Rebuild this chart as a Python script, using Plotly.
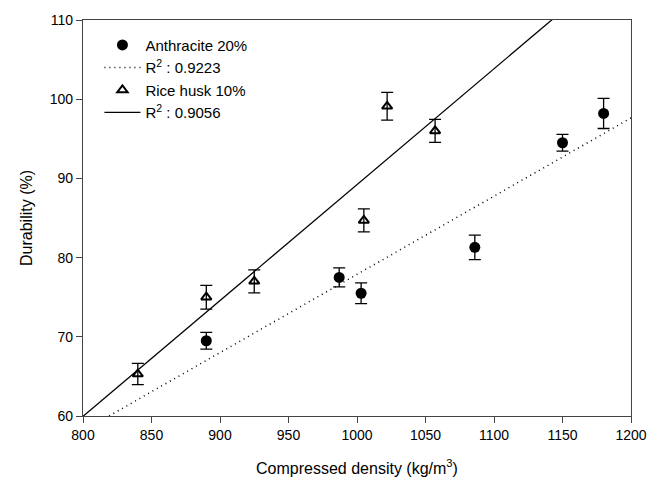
import numpy as np
import plotly.graph_objects as go

# Anthracite 20%
anth_x = [890, 987, 1003, 1086, 1150, 1180]
anth_y = [69.5, 77.5, 75.5, 81.3, 94.5, 98.2]
anth_err = [1.05, 1.2, 1.3, 1.55, 1.05, 1.9]

# Rice husk 10%
rice_x = [840, 890, 925, 1005, 1022, 1057]
rice_y = [65.3, 75.0, 77.0, 84.7, 99.1, 96.0]
rice_err = [1.35, 1.5, 1.45, 1.45, 1.75, 1.45]

anth_r2_label = "R<sup>2</sup> : 0.9223"
rice_r2_label = "R<sup>2</sup> : 0.9056"

x_range = [800, 1200]
y_range = [60, 110]

# linear fits
a_coef = np.polyfit(anth_x, anth_y, 1)
r_coef = np.polyfit(rice_x, rice_y, 1)
fit_x = np.array(x_range, dtype=float)

fig = go.Figure()

fig.add_trace(go.Scatter(
    x=anth_x, y=anth_y, mode="markers", name="Anthracite 20%",
    marker=dict(symbol="circle", size=11, color="black"),
    error_y=dict(type="data", array=anth_err, color="black", thickness=1.3, width=6),
))
fig.add_trace(go.Scatter(
    x=fit_x, y=np.polyval(a_coef, fit_x), mode="lines", name=anth_r2_label,
    line=dict(color="black", width=1.5, dash="1px,4px"),
))
fig.add_trace(go.Scatter(
    x=rice_x, y=rice_y, mode="markers", name="Rice husk 10%",
    marker=dict(symbol="triangle-up-open", size=9, color="black", line=dict(width=2, color="black")),
    error_y=dict(type="data", array=rice_err, color="black", thickness=1.3, width=6),
))
fig.add_trace(go.Scatter(
    x=fit_x, y=np.polyval(r_coef, fit_x), mode="lines", name=rice_r2_label,
    line=dict(color="black", width=1.3),
))

axis_common = dict(
    showline=True, linecolor="#444", linewidth=1.3, mirror=True,
    ticks="outside", ticklen=6, tickcolor="#444", tickwidth=1.3,
    showgrid=False, zeroline=False,
    tickfont=dict(family="Liberation Sans, Arial", size=14, color="black"),
)

fig.update_layout(
    width=661, height=486,
    margin=dict(l=83, r=30, t=15, b=70),
    paper_bgcolor="white", plot_bgcolor="white",
    font=dict(family="Liberation Sans, Arial", color="black"),
    showlegend=True,
    legend=dict(x=0.03, y=0.978, xanchor="left", yanchor="top",
                itemwidth=36,
                bgcolor="rgba(0,0,0,0)", font=dict(size=15, color="black"),
                tracegroupgap=0),
    xaxis=dict(range=x_range, dtick=50,
               title=dict(text="Compressed density (kg/m<sup>3</sup>)", font=dict(size=16), standoff=20),
               **axis_common),
    yaxis=dict(range=y_range, dtick=10,
               title=dict(text="Durability (%)", font=dict(size=16), standoff=13),
               **axis_common),
)

fig.write_html("out.html")
